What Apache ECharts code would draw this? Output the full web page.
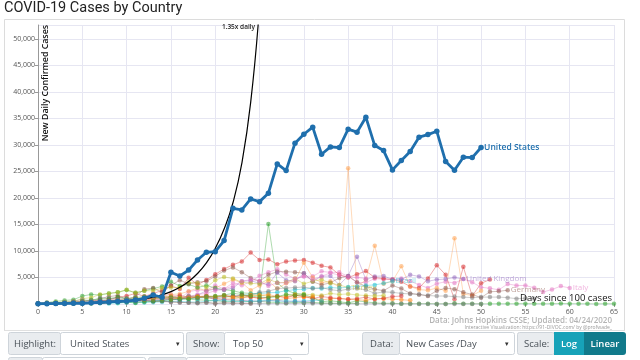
<!DOCTYPE html>
<html><head><meta charset="utf-8">
<script src="https://cdn.jsdelivr.net/npm/echarts/dist/echarts.min.js"></script>
<style>html,body{margin:0;padding:0;background:#fff}#c{width:640px;height:360px}</style>
</head><body><div id="c"></div>
<script>
const X_TICKS = [0,5,10,15,20,25,30,35,40,45,50,55,60,65];
const Y_TICKS = [0,5000,10000,15000,20000,25000,30000,35000,40000,45000,50000];

const US = [50,70,80,100,120,130,230,330,400,480,560,750,1070,1700,1260,5980,5280,6400,8300,9750,9870,11950,18050,17740,19800,19300,20890,26415,25150,30320,32000,33340,28240,29620,29500,32960,32390,35220,29870,28930,25280,27040,28740,31450,31940,32580,26850,25220,27680,27600,29500];
const REF_135 = [26,35,47,64,86,116,157,212,286,386,521,703,950,1282,1731,2336,3154,4258,5748,7760,10476,14143,19093,26500,38000,56000,80000];

const ITALY = [75,221,93,131,202,233,240,566,342,466,587,769,778,1247,1492,1797,977,2313,2651,2547,3497,2823,4000,3526,4207,5322,5986,6557,5560,4789,5249,5210,6153,5959,5974,5217,4050,4053,4782,4668,4585,4805,4316,3599,3039,3836,4204,3951,4694,4092,3153,2972,2667,3786,3493,3491,3047,2256,2729,3370,3021];
const SPAIN = [45,60,70,150,375,557,594,601,782,1266,1522,2000,1438,1987,2538,3431,2833,4946,3646,4517,5600,6600,7400,8000,9700,8300,8400,7500,8000,8200,8300,7800,7200,6900,5500,5000,5600,6200,5000,4800,4600,4200,3300,3000,4800,7300,5500,900,7000,1500,3900,4600];
const FRANCE = [30,50,80,100,130,200,280,370,500,600,800,900,1200,1100,1600,1800,1900,2400,3000,2500,3000,3800,4600,4000,2600,3500,4300,2900,3900,4400,7800,5000,4000,4300,3100,25600,3200,4600,11000,3800,4300,7100,3300,2700,2600,3000,2500,12400,1900,1600,2500];
const CHINA = [95,277,486,669,802,1500,1800,1700,2000,2200,2640,2100,2500,2900,3300,4200,3400,3700,3100,3500,3000,2700,2500,2100,2000,1900,15100,4000,2600,2000,1800,1200,400,600,420,220,600,400,200,120,140,40,50,30,45,20,20,130,40,30,20,25,40,30,50,60,40,30,50,80,60,40,30,20,40,30,60,80];
const GERMANY = [30,70,120,130,240,120,280,1000,1400,1600,900,1400,2800,3000,2200,3500,4500,3800,4100,4300,5200,6300,6900,6000,4900,4300,5500,6100,6100,6000,5800,4200,3600,4000,4900,5300,4100,3300,2800,2500,3500,2900,2000,1800,1500,2500,3000,2800,2200,1800,1200,2300,2400,2600];
const UK = [50,50,70,50,130,50,170,200,300,400,350,400,680,650,700,1000,1030,1400,1650,2500,2800,2650,3000,4300,4400,3900,3700,5900,4500,4300,5800,4300,5200,5300,3600,5300,8900,4600,5200,5300,4600,4600,5500,5200,4300,4600,4700,5000,4700];
const TURKEY = [100,200,300,400,500,1000,1200,1800,2000,2200,2700,2100,2500,2500,3000,3100,3100,4100,3900,3100,4500,5100,4800,4100,3900,3800,4700,4000,4100,4800,3800,4300,4600,3900,3600,3100];
const BRAZIL = [20,30,50,70,100,130,170,230,300,350,400,500,550,600,700,800,900,1000,1100,1200,1300,1400,1500,1600,1800,2000,2100,2200,2500,2700,2800,3000,2900,3100,3000,3200,3300,3500,3600,3900,4300];
const IRAN = [100,150,200,380,520,840,590,1200,1050,1100,1100,1000,960,1080,1500,1200,1300,1050,1370,1180,1050,1200,1600,1000,1700,2200,2400,2900,3000,3100,3200,2900,3100,2700,2500,2800,2900,2700,2000,2300,2200,2000,1900,1800,1600,1500,1500,1400,1300,1200,1300,1300,1300,1200,1000,1100,1000];
const RUSSIA = [40,50,100,60,160,150,180,300,250,500,500,600,700,800,1000,1100,1200,1400,1800,2000,2500,2800,3400,4300,4600,4400,3400,4000,4000,4700,5200,4600,5200,5900,5400,5100,5000,4800];
const NETHERLANDS = [30,60,80,150,190,160,280,290,350,530,600,850,1000,1100,1200,1150,1100,1000,1300,1200,1000,900,1000,1200,1300,1100,900,800,1000,1200,1300,1100,750,1000,1100,900,800,700,1000,1000,900,800,700];
const BELGIUM = [60,70,190,30,170,180,300,400,600,700,500,1050,1000,1300,1200,1400,1600,1300,1400,1500,1200,1600,1400,1700,1300,1100,1300,1500,1200,1600,1500,1000,1400,1200,1000,900,1000,1300,900,1100,1400,1500];
const CANADA = [40,60,100,130,180,200,250,400,600,650,800,1000,1200,1100,1300,1400,1200,1500,1400,1300,1400,1500,1200,1400,1600,1700,1500,1300,1700,1800,1900,1700,1600,2000,1800,1900,1700,1600,1500,1600];
const SWITZERLAND = [60,100,200,250,300,500,800,900,1000,1300,1000,1200,1400,1100,1000,1200,1100,900,800,700,600,500,550,600,400,500,350,300,200,350,250,300,200,150,120,160,100];
const PORTUGAL = [60,40,80,130,160,230,300,450,550,600,700,800,900,1000,800,1000,700,1500,1100,1500,700,900,800,700,600,500,600,750,400,550,450,400];
const SWEDEN = [60,80,100,150,100,50,150,130,100,150,300,250,300,350,400,500,500,400,350,500,700,600,500,450,500,600,700,500,600,500,550,700,650];
const AUSTRIA = [70,100,200,150,300,400,300,600,700,800,600,900,700,500,550,400,300,250,200,300,100,250,200,150,100];
const KOREA = [100,230,140,280,330,400,600,500,600,800,900,500,600,500,500,400,300,250,150,250,100,150,100,150,100,90,90,100,90,80,150,100,100,80,80,50,40,50,50,30,30,25,20,10,15,10,10,10,10,8,10];
const INDIA = [20,30,50,80,100,150,200,300,400,500,550,600,800,900,1000,900,1100,1200,1300,1500,1400,1600,1300,1500,1700,1600,1800,1400,1300,1700,1300,1400];
const PERU = [30,50,60,80,100,150,100,200,250,300,350,200,400,500,600,800,900,1000,1200,1400,1500,1700,2000,1800,1500,1300,1200,1400,1800,1600,1700];

const fadedSeriesDefs = [
  ['Italy', ITALY, '#e377c2', true],
  ['Spain', SPAIN, '#d62728', false],
  ['France', FRANCE, '#ff9f4a', false],
  ['China', CHINA, '#2ca02c', false],
  ['Germany', GERMANY, '#8c564b', true],
  ['United Kingdom', UK, '#9467bd', true],
  ['Turkey', TURKEY, '#bcbd22', true],
  ['Brazil', BRAZIL, '#17becf', true],
  ['Iran', IRAN, '#7f7f7f', false],
  ['Russia', RUSSIA, '#e377c2', false],
  ['Netherlands', NETHERLANDS, '#ff7f0e', false],
  ['Belgium', BELGIUM, '#d62728', false],
  ['Canada', CANADA, '#bcbd22', false],
  ['Switzerland', SWITZERLAND, '#2ca02c', false],
  ['Portugal', PORTUGAL, '#9467bd', false],
  ['Sweden', SWEDEN, '#17becf', false],
  ['Austria', AUSTRIA, '#8c564b', false],
  ['Korea, South', KOREA, '#7f7f7f', false],
  ['India', INDIA, '#ff7f0e', false],
  ['Peru', PERU, '#2ca02c', false]
];

const toPairs = arr => arr.map((v, i) => [i, v]);

const series = [];
fadedSeriesDefs.forEach(([name, arr, color, lab]) => {
  series.push({
    name, type: 'line', data: toPairs(arr), z: 2,
    symbol: 'circle', symbolSize: 4.5, showSymbol: true,
    lineStyle: { color, width: 1, opacity: 0.38 },
    itemStyle: { color, opacity: 0.55 },
    emphasis: { disabled: true },
    endLabel: lab ? { show: true, formatter: name, color, opacity: 0.55, fontSize: 8, fontFamily: 'Open Sans', distance: 3 } : { show: false },
    animation: false
  });
});
series.push({
  name: '1.35x daily', type: 'line', data: toPairs(REF_135), z: 4, smooth: true,
  showSymbol: false, symbol: 'none',
  lineStyle: { color: '#000', width: 1.2 }, animation: false
});
series.push({
  name: 'United States', type: 'line', data: toPairs(US), z: 6,
  symbol: 'circle', symbolSize: 5.5, showSymbol: true,
  lineStyle: { color: '#1f6fad', width: 2.8 },
  itemStyle: { color: '#1f6fad' },
  endLabel: { show: true, formatter: 'United States', color: '#1f6fad', fontSize: 8.5, fontWeight: 600, fontFamily: 'Open Sans', distance: 3 },
  animation: false
});

const ctl = [];
function box(x, y, w, h, fill, stroke) {
  ctl.push({ type: 'rect', shape: { x, y, width: w, height: h, r: 2 }, style: { fill, stroke, lineWidth: 1 } });
}
function txt(x, y, t, opts) {
  ctl.push({ type: 'text', x, y, style: Object.assign({ text: t, fill: '#495057', fontSize: 9.5, fontFamily: 'Open Sans', verticalAlign: 'middle' }, opts || {}) });
}
box(8.5, 332.5, 52, 22, '#e9ecef', '#ced4da'); txt(14, 344, 'Highlight:');
box(60.5, 332.5, 123, 22, '#fff', '#ced4da'); txt(70, 344, 'United States'); txt(176, 344, '▾', { fontSize: 7, fill: '#333' });
box(186.5, 332.5, 38, 22, '#e9ecef', '#ced4da'); txt(193, 344, 'Show:');
box(224.5, 332.5, 84, 22, '#fff', '#ced4da'); txt(233, 344, 'Top 50'); txt(300, 344, '▾', { fontSize: 7, fill: '#333' });
box(362.5, 332.5, 37, 22, '#e9ecef', '#ced4da'); txt(370, 344, 'Data:');
box(399.5, 332.5, 115, 22, '#fff', '#ced4da'); txt(406, 344, 'New Cases /Day'); txt(505, 344, '▾', { fontSize: 7, fill: '#333' });
box(517.5, 332.5, 37, 22, '#e9ecef', '#ced4da'); txt(524, 344, 'Scale:');
ctl.push({ type: 'rect', shape: { x: 554, y: 332, width: 30, height: 23 }, style: { fill: '#17a2b8' } });
ctl.push({ type: 'rect', shape: { x: 584, y: 332, width: 42, height: 23, r: [0, 3, 3, 0] }, style: { fill: '#117a8b' } });
txt(569, 344, 'Log', { fill: '#fff', align: 'center', fontWeight: 600 });
txt(605, 344, 'Linear', { fill: '#fff', align: 'center', fontWeight: 600 });
box(8.5, 357.5, 34, 22, '#e9ecef', '#ced4da');
box(42.5, 357.5, 103, 22, '#fff', '#ced4da');
box(148.5, 357.5, 38, 22, '#e9ecef', '#ced4da');
box(186.5, 357.5, 105, 22, '#fff', '#ced4da');

const chart = echarts.init(document.getElementById('c'), null, { renderer: 'canvas' });
chart.setOption({
  animation: false,
  backgroundColor: '#fff',
  grid: { left: 38, right: 26, top: 25, bottom: 56, containLabel: false },
  xAxis: {
    type: 'value', min: X_TICKS[0], max: X_TICKS[X_TICKS.length - 1], interval: 5,
    axisLine: { show: false },
    axisTick: { show: true, length: 3, lineStyle: { color: '#999' } },
    axisLabel: { fontSize: 7, color: '#555', fontFamily: 'Open Sans', margin: 4 },
    splitLine: { show: true, lineStyle: { color: '#e6e6f2', width: 1 } }
  },
  yAxis: {
    type: 'value', min: Y_TICKS[0], max: 52600, interval: 5000,
    axisLine: { show: true, lineStyle: { color: '#999' } },
    axisTick: { show: true, length: 3, lineStyle: { color: '#999' } },
    axisLabel: { fontSize: 7, color: '#555', fontFamily: 'Open Sans', margin: 3, showMinLabel: false, showMaxLabel: false,
      formatter: v => Y_TICKS.includes(v) ? v.toLocaleString('en-US') : '' },
    splitLine: { show: true, lineStyle: { color: '#e6e6f2', width: 1 } }
  },
  series,
  graphic: [
    { type: 'rect', z: -1, shape: { x: 4.5, y: 19.5, width: 620, height: 311 }, style: { fill: 'none', stroke: '#dcdcdc', lineWidth: 1 } },
    { type: 'text', x: 4, y: 8, style: { text: 'COVID-19 Cases by Country', fontSize: 14.5, fill: '#222', fontFamily: 'Roboto', verticalAlign: 'middle' } },
    { type: 'text', x: 41, y: 25, rotation: Math.PI / 2, z: 10, style: { text: 'New Daily Confirmed Cases', fontSize: 8.8, fontWeight: 600, fill: '#111', fontFamily: 'Open Sans', align: 'right', verticalAlign: 'top' } },
    { type: 'text', x: 612, y: 298, z: 10, style: { text: 'Days since 100 cases', fontSize: 9.5, fontWeight: 500, fill: '#111', fontFamily: 'Open Sans', align: 'right', verticalAlign: 'middle' } },
    { type: 'text', x: 255, y: 27, z: 10, style: { text: '1.35x daily', fontSize: 6.5, fontWeight: 600, fill: '#222', fontFamily: 'Open Sans', align: 'right', verticalAlign: 'middle' } },
    { type: 'text', x: 612, y: 321, style: { text: 'Data: Johns Hopkins CSSE; Updated: 04/24/2020', fontSize: 8, fontWeight: 600, fill: '#b4b4b4', fontFamily: 'Open Sans', align: 'right', verticalAlign: 'middle' } },
    { type: 'text', x: 612, y: 327.5, style: { text: 'Interactive Visualization: https://91-DIVOC.com/ by @profwade_', fontSize: 5, fill: '#999', fontFamily: 'Open Sans', align: 'right', verticalAlign: 'middle' } },
    { type: 'line', shape: { x1: 4, y1: 330.5, x2: 625, y2: 330.5 }, style: { stroke: '#e0e0e0' } }
  ].concat(ctl)
});
</script></body></html>
